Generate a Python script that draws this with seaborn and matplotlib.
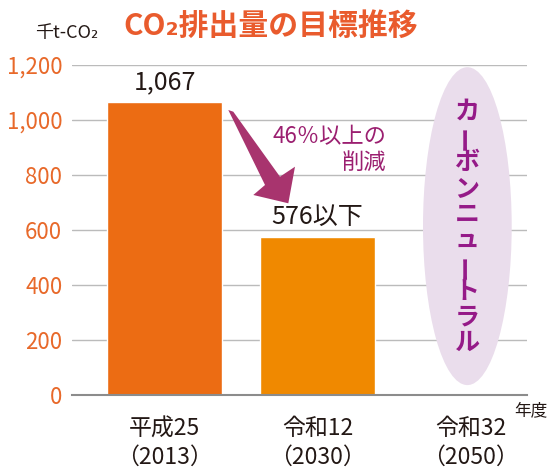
import matplotlib
matplotlib.use("Agg")
import matplotlib.pyplot as plt
import seaborn as sns
import pandas as pd
from matplotlib.patches import Ellipse, Polygon

# ---- data ----
categories = ["平成25\n（2013）", "令和12\n（2030）", "令和32\n（2050）"]
values = [1067, 576, 0]
value_labels = ["1,067", "576以下", ""]
bar_colors = ["#EC6C13", "#F08900", "#FFFFFF"]
yticks = [0, 200, 400, 600, 800, 1000, 1200]
ytick_labels = ["0", "200", "400", "600", "800", "1,000", "1,200"]
neutral_label = "カーボンニュートラル"
title = "CO₂排出量の目標推移"
unit_label = "千t-CO₂"
year_label = "年度"
reduction_label = "46％以上の\n削減"

sns.set_theme(style="white")
FONT = ["Noto Sans CJK JP", "DejaVu Sans"]
plt.rcParams["font.family"] = FONT

fig = plt.figure(figsize=(5.52, 4.71), dpi=100)
ax = fig.add_axes([72/552, 1-395/471, 455/552, 330/471])

df = pd.DataFrame({"cat": categories, "val": values})
sns.barplot(data=df, x="cat", y="val", hue="cat", palette=bar_colors,
            legend=False, width=0.75, ax=ax, saturation=1)
ax.patches[2].set_visible(False)

ax.set_xlim(-0.605, 2.37)
ax.set_ylim(0, 1200)
ax.set_yticks(yticks)
ax.set_yticklabels(ytick_labels, color="#E8692A", fontsize=16)
ax.set_xlabel("")
ax.set_ylabel("")
ax.tick_params(axis="y", length=0, pad=7)
ax.tick_params(axis="x", length=0, pad=16)
for lab in ax.get_xticklabels():
    lab.set_fontsize(16.5)
    lab.set_color("#231815")
    lab.set_linespacing(1.3)

ax.grid(axis="y", color="#BBBBBB", linewidth=1.0)
ax.set_axisbelow(True)
for s in ["left", "right", "top"]:
    ax.spines[s].set_visible(False)
ax.spines["bottom"].set_color("#8C8C8C")
ax.spines["bottom"].set_linewidth(1.5)

# value labels
for i, (v, t) in enumerate(zip(values, value_labels)):
    if t:
        ax.annotate(t, (i, v), xytext=(0, 14), textcoords="offset points",
                    ha="center", va="center", fontsize=18, color="#231815")

# carbon neutral ellipse
ell = Ellipse((2 - 0.02, 614), width=0.58, height=1156, facecolor="#EADDEC",
              edgecolor="none", clip_on=False, zorder=3)
ax.add_patch(ell)
n = len(neutral_label)
top_px, bot_px = 112, 343
for k, c in enumerate(neutral_label):
    py = top_px + (bot_px - top_px) * k / (n - 1)
    rot = 90 if c == "ー" else 0
    ax.text((467-72)/455, (395-py)/330, c, transform=ax.transAxes,
            ha="center", va="center", fontsize=18, fontweight="bold",
            color="#951A88", rotation=rot, zorder=4)

# arrow (decoration, axes-fraction outline)
arrow_pts = [(0.3435, 0.8636), (0.3545, 0.8585), (0.4571, 0.6615),
             (0.4901, 0.6918), (0.4754, 0.5809), (0.3985, 0.6061),
             (0.4242, 0.6364)]
ax.add_patch(Polygon(arrow_pts, closed=True, transform=ax.transAxes,
                     facecolor="#A8346E", edgecolor="none", zorder=4))
ax.text((386-72)/455, (395-150)/330, reduction_label, transform=ax.transAxes,
        ha="right", va="center", fontsize=16, color="#9B1F70",
        linespacing=1.15, zorder=4)

# titles
fig.text(123/552, 1-26/471, title, ha="left", va="center", fontsize=21.5,
         fontweight="bold", color="#E95B2D")
fig.text(35/552, 1-33/471, unit_label, ha="left", va="center", fontsize=13,
         color="#231815")
fig.text(531/552, 1-411/471, year_label, ha="center", va="center",
         fontsize=12, color="#231815")

fig.savefig("out.png", dpi=100)
